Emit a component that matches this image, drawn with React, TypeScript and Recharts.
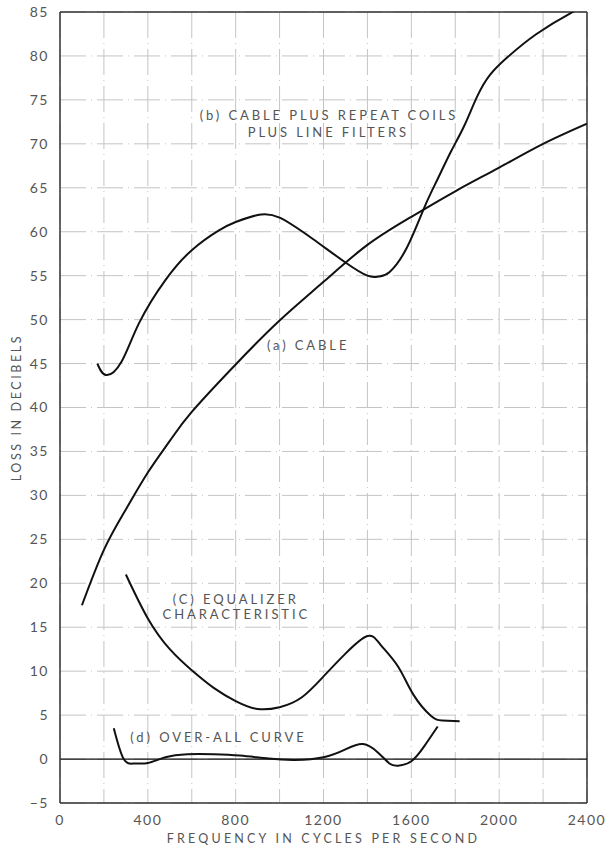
import { LineChart, Line, XAxis, YAxis, CartesianGrid, ReferenceLine, ReferenceDot } from 'recharts'

// (a) cable
const cableHz   = [100, 200, 300, 400, 500, 600, 800, 1000, 1200, 1400, 1600, 1800, 2000, 2200, 2400]
const cableLoss = [17.5, 23.8, 28.4, 32.6, 36.2, 39.5, 44.9, 49.9, 54.3, 58.5, 61.7, 64.6, 67.3, 70, 72.3]

// (b) cable plus repeat coils plus line filters
const filtHz   = [170, 210, 280, 360, 480, 600, 720, 800, 900, 1000, 1150, 1300, 1400, 1450, 1500, 1580, 1660, 1720, 1780, 1840, 1900, 1960, 2040, 2170, 2320, 2360]
const filtLoss = [45, 43.7, 45.2, 49.6, 54.5, 57.9, 60.1, 61.1, 61.9, 61.6, 59.2, 56.5, 55, 54.9, 55.4, 58.2, 62.8, 66, 69.1, 72, 75.4, 77.9, 79.9, 82.5, 84.8, 85.2]

// (c) equalizer characteristic
const eqHz   = [300, 400, 500, 600, 700, 800, 900, 1000, 1100, 1200, 1300, 1400, 1460, 1540, 1610, 1690, 1740, 1820]
const eqLoss = [21, 16, 12.5, 10.1, 8.1, 6.6, 5.7, 5.9, 7, 9.4, 12, 14, 13, 10.5, 7.3, 4.9, 4.4, 4.3]

// (d) over-all curve
const allHz   = [245, 290, 340, 400, 480, 580, 700, 820, 950, 1070, 1200, 1300, 1380, 1450, 1500, 1540, 1600, 1660, 1720]
const allLoss = [3.5, 0, -0.5, -0.45, 0.2, 0.55, 0.55, 0.4, 0.05, -0.1, 0.2, 1.1, 1.7, 0.7, -0.5, -0.75, -0.25, 1.5, 3.7]

const xTicks = [0, 200, 400, 600, 800, 1000, 1200, 1400, 1600, 1800, 2000, 2200, 2400]
const yTicks = [-5, 0, 5, 10, 15, 20, 25, 30, 35, 40, 45, 50, 55, 60, 65, 70, 75, 80, 85]

const notes = [
  { hz: 1225, db: 73.2, text: '(b) CABLE PLUS REPEAT COILS' },
  { hz: 1222, db: 71.3, text: 'PLUS LINE FILTERS' },
  { hz: 1130, db: 47.1, text: '(a) CABLE' },
  { hz: 800, db: 18.2, text: '(C) EQUALIZER' },
  { hz: 803, db: 16.4, text: 'CHARACTERISTIC' },
  { hz: 722, db: 2.5, text: '(d) OVER-ALL CURVE' },
]

const zip = (xs: number[], ys: number[]) => xs.map((x, i) => ({ x, y: ys[i] }))

const FONT = 'Lato, "DejaVu Sans", sans-serif'
const TEXT = '#555'
const tickStyle = { fontSize: 14, fill: TEXT, fontFamily: FONT, letterSpacing: 1.5 }
const lineProps = { type: 'natural' as const, dataKey: 'y', stroke: '#111', strokeWidth: 2, dot: false, isAnimationActive: false }

const YLabel = ({ viewBox }: any) => {
  const cy = viewBox.y + viewBox.height / 2
  return (
    <text x={0} y={0} transform={`translate(21, ${cy}) rotate(-90)`} textAnchor="middle" fill={TEXT} fontSize={12.5} fontFamily={FONT} letterSpacing={2.6}>
      LOSS IN DECIBELS
    </text>
  )
}

export default function App() {
  return (
    <div style={{ position: 'absolute', left: 0, top: 0, background: '#fff' }}>
      <LineChart width={611} height={845} margin={{ top: 12, right: 24, left: 0, bottom: 0 }}>
        <CartesianGrid stroke="#c4c4c4" strokeDasharray="26 5 1 5" strokeWidth={1} />
        <XAxis
          type="number" dataKey="x" domain={[0, 2400]} ticks={xTicks} allowDataOverflow
          tickFormatter={(v: number) => (v % 400 === 0 ? String(v) : '')}
          tick={tickStyle} tickLine={false} axisLine={{ stroke: '#333', strokeWidth: 1.5 }}
          tickMargin={6} height={42}
          label={{ value: 'FREQUENCY IN CYCLES PER SECOND', position: 'insideBottom', offset: 2, fill: TEXT, fontSize: 12.5, fontFamily: FONT, letterSpacing: 3.2 }}
        />
        <YAxis
          type="number" domain={[-5, 85]} ticks={yTicks} allowDataOverflow
          tickFormatter={(v: number) => (v < 0 ? '\u2212' + Math.abs(v) : String(v))}
          tick={tickStyle} tickLine={false} axisLine={{ stroke: '#333', strokeWidth: 1.5 }}
          tickMargin={5} width={60}
          label={<YLabel />}
        />
        <ReferenceLine y={85} stroke="#333" strokeWidth={1.5} />
        <ReferenceLine x={2400} stroke="#333" strokeWidth={1.5} />
        <ReferenceLine y={0} stroke="#111" strokeWidth={1.3} />
        <Line {...lineProps} data={zip(cableHz, cableLoss)} />
        <Line {...lineProps} data={zip(filtHz, filtLoss)} />
        <Line {...lineProps} data={zip(eqHz, eqLoss)} />
        <Line {...lineProps} data={zip(allHz, allLoss)} />
        {notes.map((n) => (
          <ReferenceDot
            key={n.text} x={n.hz} y={n.db} r={0}
            shape={(p: any) => (
              <text x={p.cx} y={p.cy} dy={4.5} textAnchor="middle" fill={TEXT} fontSize={13} fontFamily={FONT} letterSpacing={2.9}>
                {n.text}
              </text>
            )}
          />
        ))}
      </LineChart>
    </div>
  )
}
